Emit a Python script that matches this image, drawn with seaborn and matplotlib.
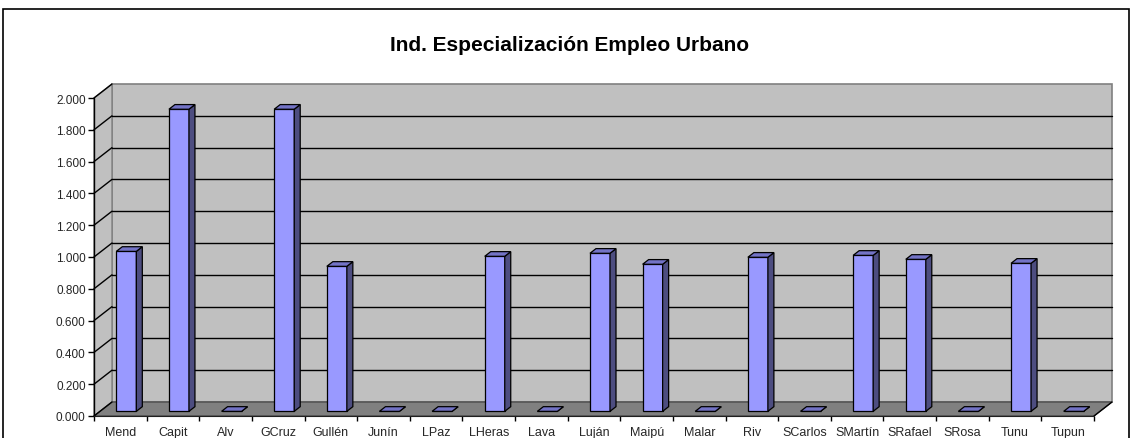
import matplotlib
matplotlib.use("Agg")
import matplotlib.pyplot as plt
import matplotlib.transforms as mtransforms
from matplotlib.patches import Polygon, Rectangle
import seaborn as sns

# ---- data ----
categories = ["Mend", "Capit", "Alv", "GCruz", "Gullén", "Junín", "LPaz", "LHeras",
              "Lava", "Luján", "Maipú", "Malar", "Riv", "SCarlos", "SMartín",
              "SRafael", "SRosa", "Tunu", "Tupun"]
values = [1.006, 1.900, 0.0, 1.900, 0.912, 0.0, 0.0, 0.975, 0.0, 0.994, 0.925,
          0.0, 0.969, 0.0, 0.981, 0.956, 0.0, 0.931, 0.0]
ytick_values = [0.0, 0.2, 0.4, 0.6, 0.8, 1.0, 1.2, 1.4, 1.6, 1.8, 2.0]
ytick_labels = ["0.000", "0.200", "0.400", "0.600", "0.800", "1.000", "1.200",
                "1.400", "1.600", "1.800", "2.000"]
title = "Ind. Especialización Empleo Urbano"

sns.set_theme(style="white")
plt.rcParams['font.family'] = ['Liberation Sans', 'DejaVu Sans']

W, H = 1132, 439
fig = plt.figure(figsize=(W / 100, H / 100), dpi=100)
fig.patch.set_facecolor("white")

# axes: front plane left 94 px .. right 1094 px, y: 0 at 417 px, 2.0 at 99 px
ax = fig.add_axes([94 / W, (H - 417) / H, 1000 / W, 318 / H])
n = len(categories)
xmin, xmax = -0.5, n - 0.5
ymin, ymax = 0.0, 2.0

# depth vector in data units (full depth: 18 px right, 14 px up)
px_x = 1000 / n
px_y = 318 / 2.0
DX = 18 / px_x
DY = 14 / px_y

wall_c = "#C0C0C0"
floor_c = "#808080"
edge_c = "#808080"

# back wall
ax.add_patch(Polygon([(xmin + DX, DY), (xmax + DX, DY), (xmax + DX, ymax + DY),
                      (xmin + DX, ymax + DY)], closed=True, facecolor=wall_c,
                     edgecolor=edge_c, linewidth=1.2, zorder=0, clip_on=False))
# left side wall
ax.add_patch(Polygon([(xmin, 0), (xmin + DX, DY), (xmin + DX, ymax + DY), (xmin, ymax)],
                     closed=True, facecolor=wall_c, edgecolor=edge_c, linewidth=1.0,
                     zorder=0, clip_on=False))
# floor
ax.add_patch(Polygon([(xmin, 0), (xmax, 0), (xmax + DX, DY), (xmin + DX, DY)],
                     closed=True, facecolor=floor_c, edgecolor="#404040", linewidth=0.8,
                     zorder=0.2, clip_on=False))
# gridlines
for v in ytick_values[1:-1]:
    ax.plot([xmin + DX, xmax + DX], [v + DY, v + DY], color="black", lw=1.0,
            zorder=0.5, clip_on=False)
for v in ytick_values:
    ax.plot([xmin, xmin + DX], [v, v + DY], color="black", lw=1.0,
            zorder=0.5, clip_on=False)
# right floor edge
ax.plot([xmax, xmax + DX], [0, DY], color="black", lw=1.0, zorder=0.6, clip_on=False)

# bars
bar_w = 0.38
front_ox = DX / 3
front_oy = DY / 3
ddx = DX / 3
ddy = DY / 3
sns.barplot(x=categories, y=values, color="#9999FF", width=bar_w, ax=ax,
            edgecolor="black", linewidth=0.9, saturation=1, zorder=2)
shift = mtransforms.Affine2D().translate(front_ox, front_oy)
for p in list(ax.patches):
    if not isinstance(p, Rectangle):
        continue
    if p.get_zorder() != 2:
        continue
    p.set_transform(shift + ax.transData)
    p.set_clip_on(False)
    x0 = p.get_x() + front_ox
    x1 = x0 + p.get_width()
    h = p.get_height() + front_oy
    b = front_oy
    # side face
    ax.add_patch(Polygon([(x1, b), (x1, h), (x1 + ddx, h + ddy), (x1 + ddx, b + ddy)],
                         closed=True, facecolor="#4D4D80", edgecolor="black",
                         linewidth=0.9, zorder=2.1, clip_on=False))
    # top face
    ax.add_patch(Polygon([(x0, h), (x1, h), (x1 + ddx, h + ddy), (x0 + ddx, h + ddy)],
                         closed=True, facecolor="#7373C6", edgecolor="black",
                         linewidth=0.9, zorder=2.1, clip_on=False))

ax.set_xlim(xmin, xmax)
ax.set_ylim(ymin, ymax)
for s in ax.spines.values():
    s.set_visible(False)
ax.patch.set_visible(False)

# y axis line
ax.plot([xmin, xmin], [0, ymax], color="black", lw=1.0, zorder=3, clip_on=False)
ax.set_yticks(ytick_values)
ax.set_yticklabels(ytick_labels)
ax.tick_params(axis="y", left=True, length=4.5, width=1.0, pad=1.5, labelsize=8.5,
               color="black", direction="out")

ax.set_xticks(range(n))
ax.set_xticklabels(categories)
ax.set_xticks([i - 0.5 for i in range(n + 1)], minor=True)
ax.tick_params(axis="x", which="major", bottom=False, length=0, pad=7, labelsize=9)
ax.tick_params(axis="x", which="minor", bottom=True, length=3.5, width=1.0,
               color="black", direction="out")
ax.set_xlabel("")
ax.set_ylabel("")
ax.plot([xmin, xmax], [0, 0], color="#202020", lw=0.8, zorder=3, clip_on=False)

fig.text(390 / W, 1 - 51 / H, title, ha="left", va="baseline", fontsize=15,
         fontweight="bold", color="black")

# outer chart border
fig.add_artist(Rectangle((3 / W, -0.05), 1126 / W, 1.05 - 10 / H,
                         transform=fig.transFigure, fill=False, edgecolor="black",
                         linewidth=1.2))

fig.savefig("out.png", dpi=100)
